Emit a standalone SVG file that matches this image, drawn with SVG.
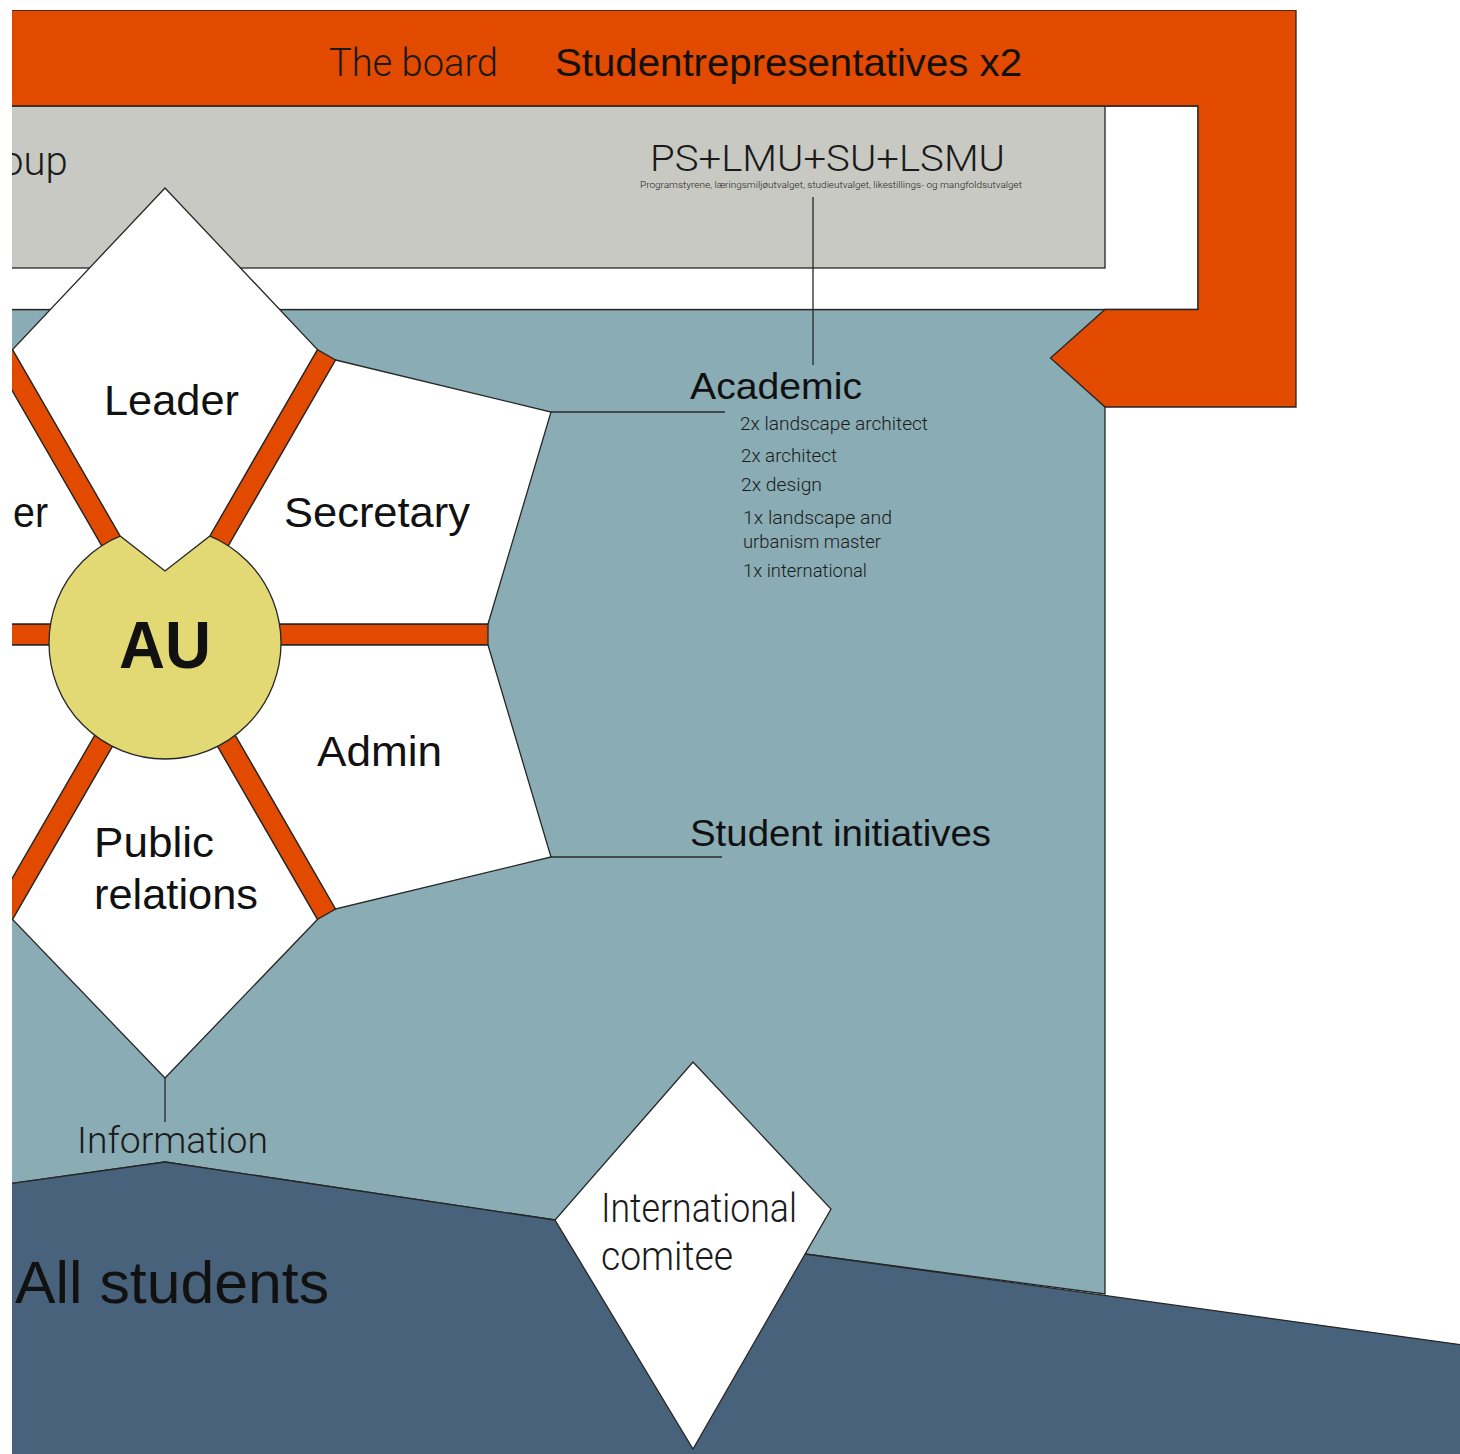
<svg xmlns="http://www.w3.org/2000/svg" width="1460" height="1454" viewBox="0 0 1460 1454">
<defs>
<clipPath id="view"><rect x="12" y="10" width="1448" height="1444"/></clipPath>
<style>
.ln{stroke:#262626;stroke-width:1.3;stroke-linejoin:miter}
.or{fill:#E24A00}
.wh{fill:#FFFFFF}
.t{font-family:"Liberation Sans",Arial,Helvetica,sans-serif;fill:#111}
.l{font-family:Roboto,"Liberation Sans",Arial,sans-serif;font-weight:300;fill:#1a1a1a}
.c{fill:none;stroke:#262626;stroke-width:1.3}
</style>
</defs>
<rect x="0" y="0" width="1460" height="1454" fill="#FFFFFF"/>
<g clip-path="url(#view)">
  <g id="student-body">
    <polygon class="ln" fill="#8AACB4" points="0,309.5 1105,309.5 1105,1294 805,1254 555,1220 165,1162 0,1185"/>
  </g>
  <g id="all-students">
    <polygon class="ln" fill="#47627A" points="0,1185 165,1162 555,1220 805,1254 1470,1346 1470,1470 0,1470"/>
    <text class="t" x="15" y="1303" font-size="59" textLength="314" lengthAdjust="spacingAndGlyphs">All students</text>
  </g>
  <g id="board-frame">
    <rect class="ln wh" x="0" y="106" width="1198" height="203.5"/>
  </g>
  <g id="working-group">
    <rect class="ln" fill="#C8C9C3" x="0" y="106" width="1105" height="162"/>
    <text class="l" x="1" y="175" font-size="40">oup</text>
    <text class="l" x="650" y="171" font-size="37" textLength="355" lengthAdjust="spacingAndGlyphs">PS+LMU+SU+LSMU</text>
    <text class="l" x="640" y="188" font-size="9" fill="#333" textLength="382" lengthAdjust="spacingAndGlyphs">Programstyrene, læringsmiljøutvalget, studieutvalget, likestillings- og mangfoldsutvalget</text>
  </g>
  <g id="the-board">
    <polygon class="ln or" points="0,10 1296,10 1296,407 1105,407 1050.5,358 1105,309.5 1198,309.5 1198,106 0,106"/>
    <text class="l" x="329" y="76" font-size="38" textLength="169" lengthAdjust="spacingAndGlyphs">The board</text>
    <text class="t" x="555" y="76" font-size="39" textLength="467" lengthAdjust="spacingAndGlyphs">Studentrepresentatives x2</text>
  </g>
  <g id="connectors">
    <line class="c" x1="813" y1="197" x2="813" y2="365"/>
    <line class="c" x1="551" y1="412" x2="725" y2="412"/>
    <line class="c" x1="551" y1="857" x2="722" y2="857"/>
    <line class="c" x1="165" y1="1078" x2="165" y2="1122"/>
  </g>
  <g id="academic">
    <text class="t" x="690" y="399" font-size="37" textLength="172" lengthAdjust="spacingAndGlyphs">Academic</text>
    <text class="l" x="740" y="430" font-size="19" textLength="188" lengthAdjust="spacingAndGlyphs">2x landscape architect</text>
    <text class="l" x="741" y="462" font-size="19" textLength="96" lengthAdjust="spacingAndGlyphs">2x architect</text>
    <text class="l" x="741" y="491" font-size="19" textLength="81" lengthAdjust="spacingAndGlyphs">2x design</text>
    <text class="l" x="743" y="524" font-size="19" textLength="149" lengthAdjust="spacingAndGlyphs">1x landscape and</text>
    <text class="l" x="743" y="548" font-size="19" textLength="138" lengthAdjust="spacingAndGlyphs">urbanism master</text>
    <text class="l" x="743" y="577" font-size="19" textLength="124" lengthAdjust="spacingAndGlyphs">1x international</text>
  </g>
  <g id="student-initiatives">
    <text class="t" x="690" y="846" font-size="37" textLength="301" lengthAdjust="spacingAndGlyphs">Student initiatives</text>
  </g>
  <g id="information">
    <text class="l" x="77" y="1153" font-size="37" textLength="191" lengthAdjust="spacingAndGlyphs">Information</text>
  </g>
  <g id="spokes">
    <rect class="ln or" x="-158" y="624" width="646" height="21"/>
    <rect class="ln or" x="-158" y="624" width="646" height="21" transform="rotate(-60 165 634.5)"/>
    <rect class="ln or" x="-158" y="624" width="646" height="21" transform="rotate(60 165 634.5)"/>
  </g>
  <g id="secretary">
    <polygon class="ln wh" points="335.6,360 551,412 488,624 183.2,624"/>
    <text class="t" x="284" y="527" font-size="43" textLength="186" lengthAdjust="spacingAndGlyphs">Secretary</text>
  </g>
  <g id="admin">
    <polygon class="ln wh" points="488,645 551,857 335.6,909 183.2,645"/>
    <text class="t" x="317" y="766" font-size="43" textLength="125" lengthAdjust="spacingAndGlyphs">Admin</text>
  </g>
  <g id="public-relations">
    <polygon class="ln wh" points="317.4,919.5 165,1078 12.6,919.5 165,655.5"/>
    <text class="t" x="94" y="857" font-size="43" textLength="120" lengthAdjust="spacingAndGlyphs">Public</text>
    <text class="t" x="94" y="909" font-size="43" textLength="164" lengthAdjust="spacingAndGlyphs">relations</text>
  </g>
  <g id="member-upper-left">
    <polygon class="ln wh" points="146.8,624 0,624 0,369.7"/>
    <text class="t" x="13" y="527" font-size="43" textLength="35" lengthAdjust="spacingAndGlyphs">er</text>
  </g>
  <g id="member-lower-left">
    <polygon class="ln wh" points="146.8,645 0,645 0,899.3"/>
  </g>
  <g id="au">
    <circle class="ln" fill="#E2D874" cx="165" cy="643" r="116"/>
    <text class="t" x="119" y="668" font-size="66" font-weight="bold" textLength="92" lengthAdjust="spacingAndGlyphs">AU</text>
  </g>
  <g id="leader">
    <polygon class="ln wh" points="165,188 317.4,349.5 209.8,536 165,571 120.2,536 12.6,349.5"/>
    <text class="t" x="104" y="415" font-size="43" textLength="135" lengthAdjust="spacingAndGlyphs">Leader</text>
  </g>
  <g id="international-comitee">
    <polygon class="ln wh" points="693,1062 831,1209 693,1449 555,1220"/>
    <text class="l" x="601" y="1222" font-size="40" textLength="196" lengthAdjust="spacingAndGlyphs">International</text>
    <text class="l" x="601" y="1270" font-size="40" textLength="132" lengthAdjust="spacingAndGlyphs">comitee</text>
  </g>
</g>
</svg>
